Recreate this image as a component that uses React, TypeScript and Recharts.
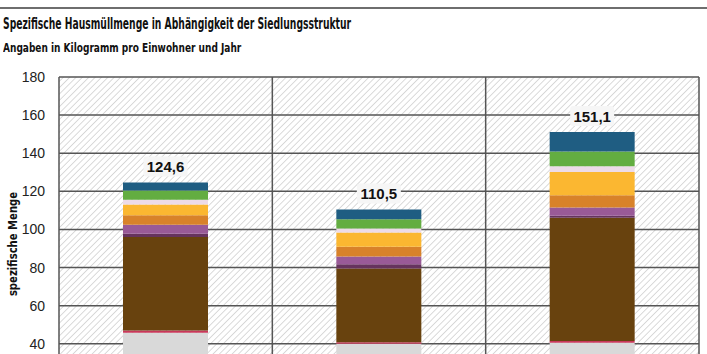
import { BarChart, Bar, XAxis, YAxis, CartesianGrid, LabelList } from "recharts";

const categories = ["A", "B", "C"];
const totals = [124.6, 110.5, 151.1];

// stacked segments, bottom to top
const grau = [45.8, 40.0, 40.5];
const rot = [1.2, 0.8, 0.9];
const braun = [49.0, 38.7, 64.7];
const dunkelviolett = [1.7, 2.3, 1.1];
const violett = [4.8, 4.0, 4.3];
const orange = [5.0, 5.1, 6.5];
const gelb = [5.6, 7.5, 12.1];
const rosa = [2.5, 2.1, 3.0];
const gruen = [4.9, 4.9, 7.8];
const blau = [4.1, 5.1, 10.2];

const yTicks = [0, 20, 40, 60, 80, 100, 120, 140, 160, 180];

const SERIES = [
  { key: "grau", color: "#d9d9d9" },
  { key: "rot", color: "#c8385a" },
  { key: "braun", color: "#68420e" },
  { key: "dunkelviolett", color: "#66335e" },
  { key: "violett", color: "#995a97" },
  { key: "orange", color: "#d8822a" },
  { key: "gelb", color: "#fbb731" },
  { key: "rosa", color: "#eddbe8" },
  { key: "gruen", color: "#63ad41" },
  { key: "blau", color: "#1f5d82" },
];

const data = categories.map((name, i) => ({
  name,
  total: totals[i],
  grau: grau[i],
  rot: rot[i],
  braun: braun[i],
  dunkelviolett: dunkelviolett[i],
  violett: violett[i],
  orange: orange[i],
  gelb: gelb[i],
  rosa: rosa[i],
  gruen: gruen[i],
  blau: blau[i],
}));

const FONT = "'DejaVu Sans Condensed', 'DejaVu Sans', sans-serif";

const renderTotal = (props: any) => {
  const { x, y, width, value } = props;
  const cx = x + width / 2;
  const text = Number(value).toFixed(1).replace(".", ",");
  return (
    <g>
      <rect x={cx - 22} y={y - 26} width={44} height={20} rx={3} fill="#f6f6f6" />
      <text x={cx} y={y - 10.5} textAnchor="middle" fontSize={15} fontWeight="bold" fill="#111" fontFamily="'Liberation Sans', sans-serif">
        {text}
      </text>
    </g>
  );
};

export default function App() {
  return (
    <div style={{ position: "absolute", top: 0, left: 0, width: 707, height: 354, overflow: "hidden", background: "#fff", fontFamily: FONT }}>
      <div style={{ position: "absolute", top: 6.5, left: 0, width: 707, height: 2, background: "#6e6e6e" }} />
      <div
        style={{
          position: "absolute",
          top: 14,
          left: 3,
          fontSize: 16,
          fontWeight: "bold",
          color: "#111",
          whiteSpace: "nowrap",
          transform: "scaleX(0.64)",
          transformOrigin: "left center",
        }}
      >
        Spezifische Hausmüllmenge in Abhängigkeit der Siedlungsstruktur
      </div>
      <div
        style={{
          position: "absolute",
          top: 41,
          left: 3,
          fontSize: 11.5,
          fontWeight: "bold",
          color: "#111",
          whiteSpace: "nowrap",
          transform: "scaleX(0.87)",
          transformOrigin: "left center",
        }}
      >
        Angaben in Kilogramm pro Einwohner und Jahr
      </div>
      <BarChart
        width={707}
        height={460}
        data={data}
        margin={{ top: 77, right: 8, bottom: 40, left: 0 }}
        barSize={85}
        style={{ position: "absolute", top: 0, left: 0 }}
      >
        <defs>
          <pattern id="hatch" width="4.5" height="4.5" patternUnits="userSpaceOnUse" patternTransform="rotate(45)">
            <rect width="4.5" height="4.5" fill="#ffffff" />
            <line x1="0" y1="0" x2="0" y2="4.5" stroke="#d6d6d6" strokeWidth="1.8" />
          </pattern>
        </defs>
        <CartesianGrid
          fill="url(#hatch)"
          stroke="#555"
          strokeWidth={1.5}
          verticalCoordinatesGenerator={({ offset }: any) => [
            offset.left,
            offset.left + offset.width / 3,
            offset.left + (offset.width * 2) / 3,
            offset.left + offset.width,
          ]}
          horizontalValues={yTicks}
        />
        <XAxis dataKey="name" hide />
        <YAxis
          width={59}
          domain={[0, 180]}
          ticks={yTicks}
          axisLine={false}
          tickLine={false}
          tickMargin={8}
          tick={{ fontSize: 14, fill: "#222", fontFamily: "'Liberation Sans', sans-serif" }}
        />
        {SERIES.map((s) => (
          <Bar key={s.key} dataKey={s.key} stackId="a" fill={s.color} isAnimationActive={false}>
            {s.key === "blau" && <LabelList dataKey="total" content={renderTotal} />}
          </Bar>
        ))}
      </BarChart>
      <div
        style={{
          position: "absolute",
          left: 12,
          top: 244,
          transform: "translate(-50%, -50%) rotate(-90deg) scaleX(0.86)",
          fontSize: 13,
          fontWeight: "bold",
          color: "#111",
          whiteSpace: "nowrap",
        }}
      >
        spezifische Menge
      </div>
    </div>
  );
}
